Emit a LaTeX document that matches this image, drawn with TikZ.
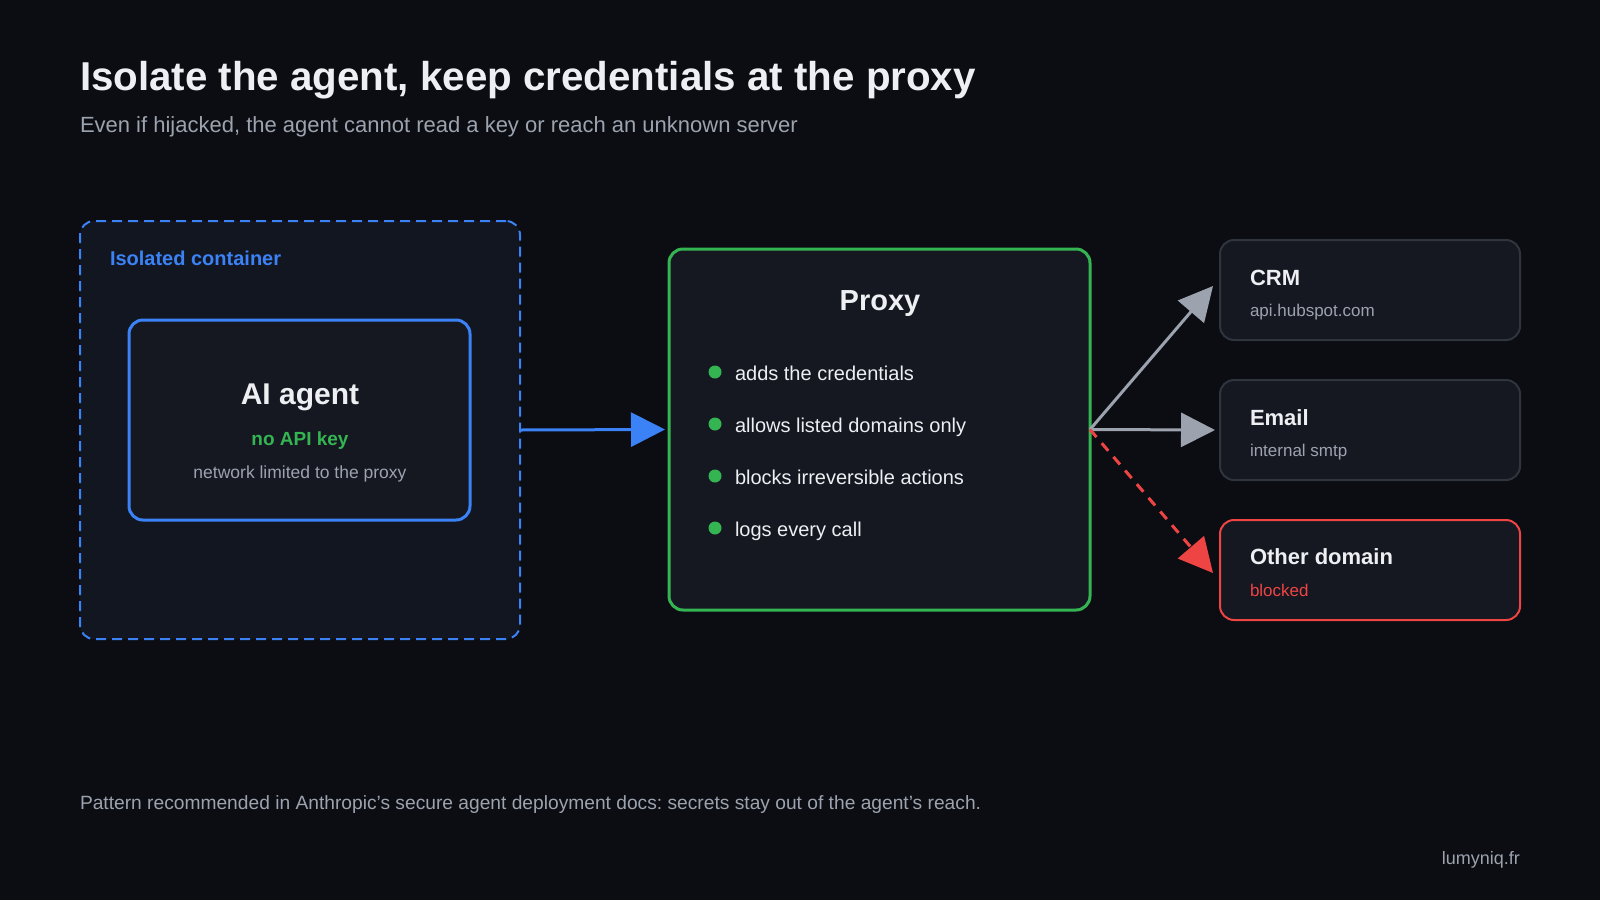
\documentclass[tikz,border=0pt]{standalone}
\usepackage{fontspec}
\setmainfont{Liberation Sans}
\usetikzlibrary{arrows.meta}
\frenchspacing
\definecolor{bg}{HTML}{0B0D12}
\definecolor{boxfill}{HTML}{151821}
\definecolor{contfill}{HTML}{121620}
\definecolor{bblue}{HTML}{3B82F6}
\definecolor{bgreen}{HTML}{34B552}
\definecolor{bred}{HTML}{EF4444}
\definecolor{gline}{HTML}{9CA3AF}
\definecolor{gborder}{HTML}{2F343D}
\definecolor{txtw}{HTML}{EDEFF2}
\definecolor{txtg}{HTML}{9CA3AF}
\newcommand\fsz[1]{\fontsize{#1}{#1}\selectfont}
\begin{document}
\begin{tikzpicture}[x=1pt,y=-1pt,
 box/.style={rectangle, rounded corners=14pt, inner sep=0pt, outer sep=0pt, fill=boxfill},
 svcbox/.style={box, draw=gborder, line width=2pt, minimum width=300pt, minimum height=100pt},
 lbl/.style={anchor=base, inner sep=0pt, outer sep=0pt},
 lblw/.style={anchor=base west, inner sep=0pt, outer sep=0pt},
 head/.style={-{Triangle[length=34pt,width=34pt]}, line width=3pt},
 dot/.style={circle, fill=bgreen, inner sep=0pt, minimum size=13pt},
 bul/.style={lblw, text=txtw, font=\fsz{20}},
 svct/.style={lblw, text=txtw, font=\fsz{22}\bfseries},
 svcs/.style={lblw, text=txtg, font=\fsz{17}},
]
\useasboundingbox (0,0) rectangle (1600,900);
\fill[bg] (0,0) rectangle (1600,900);

% title
\node[lblw, text=txtw, font=\fsz{40.3}\bfseries] (title) at (80,90) {Isolate the agent, keep credentials at the proxy};
\node[lblw, text=txtg, font=\fsz{22}] (subtitle) at (80,132) {Even if hijacked, the agent cannot read a key or reach an unknown server};

% container
\node[box, fill=contfill, draw=bblue, line width=2pt, dash pattern=on 10pt off 6pt,
  minimum width=440pt, minimum height=418pt] (cont) at (300,430) {};
\node[lblw, text=bblue, font=\fsz{20}\bfseries] (contlbl) at (110,265) {Isolated container};

% agent
\node[box, draw=bblue, line width=3pt, minimum width=341pt, minimum height=200pt] (agent) at (299.5,420) {};
\node[lbl, text=txtw, font=\fsz{30}\bfseries] (agentt) at (300,404) {AI agent};
\node[lbl, text=bgreen, font=\fsz{19}\bfseries] (agentk) at (300,445) {no API key};
\node[lbl, text=txtg, font=\fsz{17.5}] (agentn) at (300,478) {network limited to the proxy};

% proxy
\node[box, draw=bgreen, line width=3pt, minimum width=421pt, minimum height=361pt] (proxy) at (879.5,429.5) {};
\node[lbl, text=txtw, font=\fsz{29}\bfseries] (proxyt) at (880,310) {Proxy};
\node[dot] (d1) at (715,372) {};
\node[dot] (d2) at (715,424) {};
\node[dot] (d3) at (715,476) {};
\node[dot] (d4) at (715,528) {};
\node[bul] (b1) at (735,380) {adds the credentials};
\node[bul] (b2) at (735,432) {allows listed domains only};
\node[bul] (b3) at (735,484) {blocks irreversible actions};
\node[bul] (b4) at (735,536) {logs every call};

% services
\node[svcbox] (crm) at (1370,290) {};
\node[svct] (crmt) at (1250,285) {CRM};
\node[svcs] (crms) at (1250,316) {api.hubspot.com};
\node[svcbox] (email) at (1370,430) {};
\node[svct] (emailt) at (1250,425) {Email};
\node[svcs] (emails) at (1250,456) {internal smtp};
\node[svcbox, draw=bred] (other) at (1370,570) {};
\node[svct] (othert) at (1250,564) {Other domain};
\node[svcs, text=bred] (others) at (1250,596) {blocked};

% connectors
\draw[head, bblue] (cont.east) -- ([xshift=-4pt]proxy.west);
\draw[head, gline] (proxy.east) -- ([shift={(-7pt,4pt)}]crm.west);
\draw[head, gline] (proxy.east) -- ([xshift=-5pt]email.west);
\draw[head, bred, dash pattern=on 10pt off 8pt] (proxy.east) -- ([shift={(-7pt,-3pt)}]other.west);

% footer
\node[lblw, text=txtg, font=\fsz{19.2}] (foot) at (80,809) {Pattern recommended in Anthropic’s secure agent deployment docs: secrets stay out of the agent’s reach.};
\node[anchor=base east, inner sep=0pt, text=txtg, font=\fsz{18}] (brand) at (1520,864) {lumyniq.fr};
\end{tikzpicture}
\end{document}
